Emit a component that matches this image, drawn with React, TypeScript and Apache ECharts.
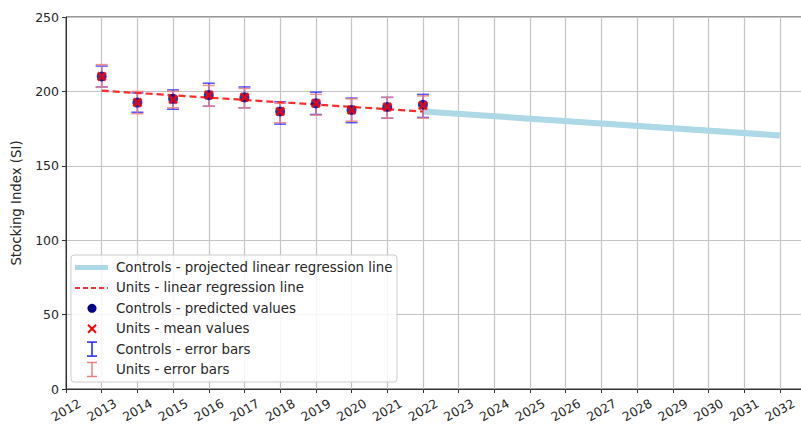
import React, { useEffect, useRef } from "react";
import * as echarts from "echarts";

const years = [2013, 2014, 2015, 2016, 2017, 2018, 2019, 2020, 2021, 2022];
const controlsPredicted = [210, 192.5, 195, 197.5, 196, 186.5, 192, 187.5, 189.5, 191];
const unitsMean = [210, 192.5, 194.5, 197.5, 196, 186.5, 192, 187.5, 189.5, 190.5];
const controlsLow = [203, 186, 188, 190, 189, 178, 184.5, 179, 182, 182.5];
const controlsHigh = [217, 199, 201, 205.5, 203, 193, 199.5, 195.5, 196, 198];
const unitsLow = [203, 185, 189, 190, 189, 179, 184, 180, 182, 182];
const unitsHigh = [218, 200, 200, 204, 202, 192, 198, 195, 196, 197];
const unitsRegYears = [2013, 2022];
const unitsRegValues = [200.5, 186.5];
const projYears = [2022, 2032];
const projValues = [186.5, 170.4];
const legendLabels = [
  "Controls - projected linear regression line",
  "Units - linear regression line",
  "Controls - predicted values",
  "Units - mean values",
  "Controls - error bars",
  "Units - error bars",
];

const FONT = "DejaVu Sans";
const XPATH = "path://M2,0 L5,3 L8,0 L10,2 L7,5 L10,8 L8,10 L5,7 L2,10 L0,8 L3,5 L0,2 Z";

function errorSeries(low: number[], high: number[], color: string, z: number) {
  return {
    type: "custom",
    z,
    data: years.map((y, i) => [y, low[i], high[i]]),
    renderItem: (params: any, api: any) => {
      const x = api.value(0);
      const a = api.coord([x, api.value(1)]);
      const b = api.coord([x, api.value(2)]);
      const w = 6;
      const style = { stroke: color, lineWidth: 1.5 };
      return {
        type: "group",
        children: [
          { type: "line", shape: { x1: a[0], y1: a[1], x2: b[0], y2: b[1] }, style },
          { type: "line", shape: { x1: a[0] - w, y1: a[1], x2: a[0] + w, y2: a[1] }, style },
          { type: "line", shape: { x1: b[0] - w, y1: b[1], x2: b[0] + w, y2: b[1] }, style },
        ],
      };
    },
  };
}

export default function App() {
  const ref = useRef<HTMLDivElement>(null);
  useEffect(() => {
    document.body.style.margin = "0";
    const chart = echarts.init(ref.current!, null, { renderer: "svg" });
    const lx = 75, lx2 = 108, lmid = 92, tx = 116, ry0 = 267.5, rdy = 20.4;
    const ry = (i: number) => ry0 + i * rdy;
    const textStyle = (i: number) => ({
      type: "text",
      x: tx,
      y: ry(i),
      style: { text: legendLabels[i], font: `13.4px '${FONT}'`, fill: "#262626", verticalAlign: "middle" },
    });
    const graphic: any[] = [
      {
        type: "rect",
        shape: { x: 71, y: 255, width: 326, height: 127, r: 3 },
        style: { fill: "rgba(255,255,255,0.85)", stroke: "#cccccc", lineWidth: 1 },
        z: 50,
      },
      { type: "line", shape: { x1: lx, y1: ry(0), x2: lx2, y2: ry(0) }, style: { stroke: "#add8e6", lineWidth: 5 }, z: 51 },
      { type: "line", shape: { x1: lx, y1: ry(1), x2: lx2, y2: ry(1) }, style: { stroke: "#ff2a2a", lineWidth: 2, lineDash: [5, 3] }, z: 51 },
      { type: "circle", shape: { cx: lmid, cy: ry(2), r: 4.5 }, style: { fill: "#00008b" }, z: 51 },
      { type: "line", shape: { x1: lmid - 4, y1: ry(3) - 4, x2: lmid + 4, y2: ry(3) + 4 }, style: { stroke: "#ff0000", lineWidth: 2 }, z: 51 },
      { type: "line", shape: { x1: lmid - 4, y1: ry(3) + 4, x2: lmid + 4, y2: ry(3) - 4 }, style: { stroke: "#ff0000", lineWidth: 2 }, z: 51 },
    ];
    [[4, "#2020ff"], [5, "#f08080"]].forEach(([i, c]: any) => {
      const y = ry(i);
      graphic.push(
        { type: "line", shape: { x1: lmid, y1: y - 7, x2: lmid, y2: y + 7 }, style: { stroke: c, lineWidth: 1.5 }, z: 51 },
        { type: "line", shape: { x1: lmid - 5, y1: y - 7, x2: lmid + 5, y2: y - 7 }, style: { stroke: c, lineWidth: 1.5 }, z: 51 },
        { type: "line", shape: { x1: lmid - 5, y1: y + 7, x2: lmid + 5, y2: y + 7 }, style: { stroke: c, lineWidth: 1.5 }, z: 51 }
      );
    });
    for (let i = 0; i < 6; i++) graphic.push({ ...textStyle(i), z: 52 });

    chart.setOption({
      animation: false,
      textStyle: { fontFamily: FONT },
      grid: {
        left: 66,
        right: -6,
        top: 17,
        bottom: 35,
        containLabel: false,
        outerBoundsMode: "none",
        show: true,
        borderColor: "#333333",
        borderWidth: 1,
      },
      xAxis: {
        type: "value",
        min: 2012,
        max: 2032.76,
        interval: 1,
        axisLine: { show: true, lineStyle: { color: "#333333" } },
        axisTick: { show: true, length: 4, lineStyle: { color: "#333333" } },
        splitLine: { show: true, lineStyle: { color: "#c4c4c4", width: 1.2 } },
        axisLabel: {
          rotate: 30,
          margin: 21,
          align: "center",
          verticalAlign: "middle",
          fontSize: 12.5,
          color: "#262626",
          fontFamily: FONT,
          formatter: (v: number) => (Number.isInteger(v) && v <= 2032 ? String(v) : ""),
          showMaxLabel: false,
        },
      },
      yAxis: {
        type: "value",
        min: 0,
        max: 250,
        interval: 50,
        name: "Stocking Index (SI)",
        nameLocation: "middle",
        nameGap: 43,
        nameTextStyle: { fontSize: 13.3, color: "#262626", fontFamily: FONT },
        axisLine: { show: true, lineStyle: { color: "#333333" } },
        axisTick: { show: true, length: 4, lineStyle: { color: "#333333" } },
        splitLine: { show: true, lineStyle: { color: "#c4c4c4", width: 1.2 } },
        axisLabel: { fontSize: 12.5, color: "#262626", fontFamily: FONT, margin: 7 },
      },
      series: [
        {
          type: "line",
          data: projYears.map((y, i) => [y, projValues[i]]),
          symbol: "none",
          lineStyle: { color: "#add8e6", width: 6 },
          z: 2,
        },
        errorSeries(controlsLow, controlsHigh, "rgba(40,40,255,0.8)", 3),
        errorSeries(unitsLow, unitsHigh, "rgba(240,128,128,0.85)", 4),
        {
          type: "line",
          data: unitsRegYears.map((y, i) => [y, unitsRegValues[i]]),
          symbol: "none",
          lineStyle: { color: "#ff2a2a", width: 2.2, type: [7, 4] },
          z: 5,
        },
        {
          type: "scatter",
          data: years.map((y, i) => [y, controlsPredicted[i]]),
          symbol: "circle",
          symbolSize: 10,
          itemStyle: { color: "#00008b" },
          z: 6,
        },
        {
          type: "scatter",
          data: years.map((y, i) => [y, unitsMean[i]]),
          symbol: XPATH,
          symbolSize: 10,
          itemStyle: { color: "#ff0000" },
          z: 7,
        },
      ],
      graphic,
    });
    return () => chart.dispose();
  }, []);
  return <div ref={ref} style={{ width: 801, height: 424 }} />;
}
